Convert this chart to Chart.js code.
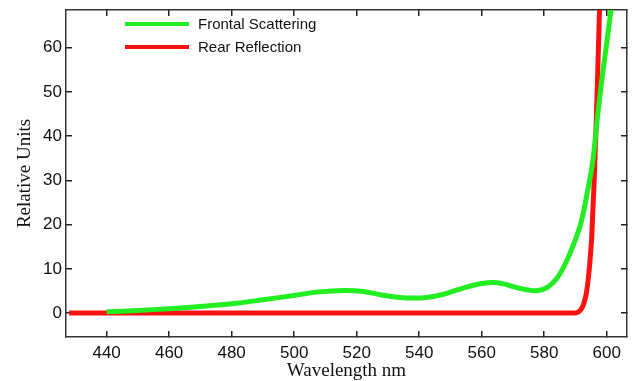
<!DOCTYPE html>
<html>
<head>
<meta charset="utf-8">
<script src="https://cdn.jsdelivr.net/npm/chart.js@4"></script>
<style>
  html, body { margin: 0; padding: 0; background: #fff; }
  #wrap { position: relative; width: 637px; height: 381px; }
  #legend { position: absolute; left: 125px; top: 12px; font: 15px "Liberation Sans", Arial, sans-serif; color: #111; }
  #legend .row { height: 23px; display: flex; align-items: center; }
  #legend .swatch { width: 64px; height: 4px; margin-right: 9px; }
</style>
</head>
<body>
<div id="wrap">
  <canvas id="spectrumChart" width="637" height="381"></canvas>
  <div id="legend"></div>
</div>
<script>
// =======================================
// DATA
// =======================================

const frontalX = [440, 450, 460, 470, 480, 490, 500, 508, 516, 522, 528, 533, 538, 543, 548, 553, 558, 563, 567, 571, 575, 578, 581, 584, 587, 590, 592, 594, 595.5, 597, 598.5, 600, 602];
const frontalY = [0.3, 0.6, 1.0, 1.5, 2.1, 3.0, 4.0, 4.8, 5.1, 4.9, 4.1, 3.6, 3.4, 3.6, 4.3, 5.4, 6.4, 6.9, 6.6, 5.8, 5.2, 5.1, 5.8, 7.8, 11.5, 16.6, 21, 28, 34, 44, 53, 61, 72];

const rearX = [428, 500, 589, 590.5, 591.5, 592.5, 593.5, 594.5, 595.2, 596, 596.5, 597, 597.6, 598.2];
const rearY = [0, 0, 0, 0.1, 0.6, 1.8, 4.5, 10.5, 17, 30, 40, 51, 66, 80];

const xTicks = [440, 460, 480, 500, 520, 540, 560, 580, 600];
const yTicks = [0, 10, 20, 30, 40, 50, 60];

const toPoints = (xs, ys) => xs.map((x, i) => ({ x: x, y: ys[i] }));

// =======================================
// AXIS HELPERS
// =======================================

const tickFont = { family: "'Liberation Sans', Arial, sans-serif", size: 17 };
const titleFont = { family: "'Liberation Serif', 'Times New Roman', serif", size: 19 };

const frame = { display: true, color: "#333", width: 1.5 };

const inwardTicks = {
    drawOnChartArea: false,
    drawTicks: true,
    tickLength: -6,
    color: "#222",
    lineWidth: 1.5
};

function setTicks(values) {
    return function (scale) {
        scale.ticks = values.map(v => ({ value: v }));
    };
}

// fixed box sizes so the plot area lands where the reference has it
function fixWidth(w) {
    return function (s) {
        s.width = w;
        s.paddingTop = 0;
        s.paddingBottom = 0;
    };
}

function fixHeight(h) {
    return function (s) {
        s.height = h;
        s.paddingLeft = 0;
        s.paddingRight = 0;
    };
}

// =======================================
// SPECTRUM (LINE CHART)
// =======================================

const spectrumChart = new Chart(
document.getElementById("spectrumChart"),
{
    type: "line",

    data: {
        datasets: [
            {
                label: "Frontal Scattering",
                data: toPoints(frontalX, frontalY),
                borderColor: "#22ee22",
                backgroundColor: "#22ee22",
                borderWidth: 5,
                pointRadius: 0,
                tension: 0.35,
                clip: 0
            },
            {
                label: "Rear Reflection",
                data: toPoints(rearX, rearY),
                borderColor: "#ff1010",
                backgroundColor: "#ff1010",
                borderWidth: 5,
                pointRadius: 0,
                cubicInterpolationMode: "monotone",
                clip: 0
            }
        ]
    },

    options: {
        responsive: false,
        animation: false,
        layout: { padding: 0 },

        plugins: {
            legend: { display: false },
            tooltip: { enabled: false }
        },

        scales: {
            x: {
                type: "linear",
                position: "bottom",
                min: 427,
                max: 606.5,
                afterBuildTicks: setTicks(xTicks),
                afterFit: fixHeight(44),
                border: frame,
                grid: inwardTicks,
                ticks: { font: tickFont, color: "#111", padding: 12, maxRotation: 0 },
                title: {
                    display: true,
                    text: "Wavelength nm",
                    font: titleFont,
                    color: "#111",
                    padding: { top: 0, bottom: -1 }
                }
            },
            x2: {
                type: "linear",
                position: "top",
                min: 427,
                max: 606.5,
                afterBuildTicks: setTicks(xTicks),
                afterFit: fixHeight(10),
                border: frame,
                grid: inwardTicks,
                ticks: { display: false }
            },
            y: {
                type: "linear",
                position: "left",
                min: -5.4,
                max: 68.5,
                afterBuildTicks: setTicks(yTicks),
                afterFit: fixWidth(66),
                border: frame,
                grid: inwardTicks,
                ticks: { font: tickFont, color: "#111", padding: 10 },
                title: {
                    display: true,
                    text: "Relative Units",
                    font: titleFont,
                    color: "#111",
                    padding: { top: 14, bottom: 0 }
                }
            },
            y2: {
                type: "linear",
                position: "right",
                min: -5.4,
                max: 68.5,
                afterBuildTicks: setTicks(yTicks),
                afterFit: fixWidth(10),
                border: frame,
                grid: inwardTicks,
                ticks: { display: false }
            }
        }
    }
});

// legend drawn as html over the plot
const legendBox = document.getElementById("legend");
spectrumChart.data.datasets.forEach(ds => {
    const row = document.createElement("div");
    row.className = "row";
    const sw = document.createElement("span");
    sw.className = "swatch";
    sw.style.background = ds.borderColor;
    const txt = document.createElement("span");
    txt.textContent = ds.label;
    row.appendChild(sw);
    row.appendChild(txt);
    legendBox.appendChild(row);
});
</script>
</body>
</html>
